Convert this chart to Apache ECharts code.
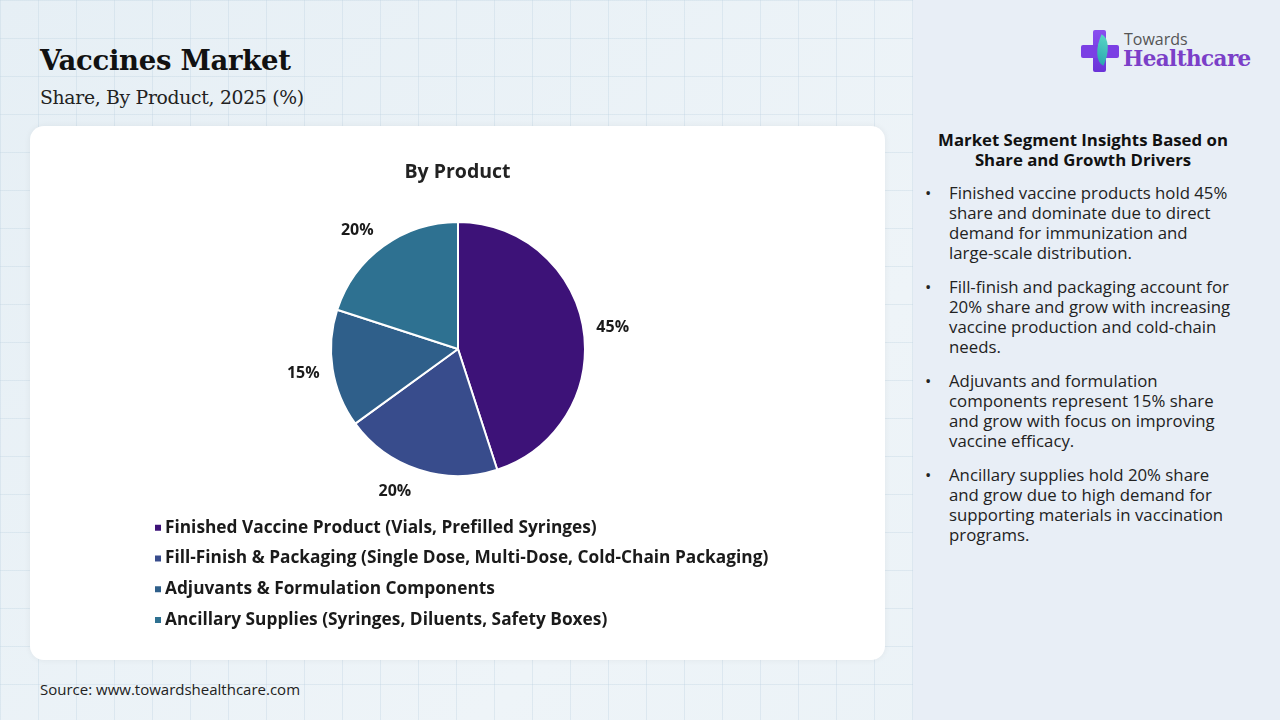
<!DOCTYPE html>
<html>
<head>
<meta charset="utf-8">
<script src="https://cdn.jsdelivr.net/npm/echarts@6/dist/echarts.min.js"></script>
<style>
  html,body{margin:0;padding:0;width:1280px;height:720px;overflow:hidden;font-family:"Open Sans",sans-serif;}
  #page{position:relative;width:1280px;height:720px;
    background:
      linear-gradient(rgba(190,210,225,0.35) 1px, transparent 1px) 0 0/38px 38px,
      linear-gradient(90deg, rgba(190,210,225,0.35) 1px, transparent 1px) 0 0/38px 38px,
      linear-gradient(135deg,#e6eff5 0%,#eef4f8 60%,#e9f1f6 100%);}
  #side{position:absolute;left:913px;top:0;width:367px;height:720px;background:#e8eef6;}
  #title{position:absolute;left:40px;top:44px;font-family:"DejaVu Serif",serif;font-weight:bold;font-size:27.5px;color:#111;letter-spacing:-0.3px;}
  #subtitle{position:absolute;left:40px;top:87px;font-family:"DejaVu Serif",serif;font-size:18.8px;color:#222;letter-spacing:-0.3px;}
  #card{position:absolute;left:30px;top:126px;width:855px;height:534px;background:#fff;border-radius:14px;box-shadow:0 0 6px rgba(0,0,0,0.06);}
  #chart{position:absolute;left:0;top:0;width:855px;height:534px;}
  #source{position:absolute;left:40px;top:679px;font-size:15px;color:#222;font-family:"Open Sans",sans-serif;}
  #insTitle{position:absolute;left:903px;top:130px;width:360px;text-align:center;font-weight:bold;font-size:16.8px;line-height:20px;color:#111;font-family:"Open Sans",sans-serif;white-space:nowrap;}
  #ins{position:absolute;left:924px;top:183px;width:350px;margin:0;padding:0;list-style:none;font-size:16.8px;line-height:20px;color:#222;font-family:"Open Sans",sans-serif;white-space:nowrap;}
  #ins li{position:relative;padding-left:25px;margin-bottom:14px;}
  #ins li::before{content:"•";position:absolute;left:1px;top:0;}
  #logo{position:absolute;left:1080px;top:28px;width:180px;height:50px;}
  .cv{position:absolute;left:13px;top:2px;width:13px;height:42px;background:linear-gradient(#8a4ef0,#6a32d8);border-radius:2px;}
  .ch{position:absolute;left:1px;top:17px;width:38px;height:13px;background:#7b3fe4;border-radius:2px;}
  .leaf{position:absolute;left:15px;top:8px;width:15px;height:28px;background:linear-gradient(#57d6c4,#2aa7b0);border-radius:0 100% 0 100%;transform:rotate(25deg);}
  .t1{position:absolute;left:44px;top:0px;font-family:"Open Sans",sans-serif;font-size:16px;color:#555;}
  .t2{position:absolute;left:43px;top:18px;font-family:"DejaVu Serif",serif;font-weight:bold;font-size:21.5px;color:#7b3fc8;letter-spacing:-0.6px;}
</style>
</head>
<body>
<div id="page">
  <div id="side"></div>
  <div id="title">Vaccines Market</div>
  <div id="subtitle">Share, By Product, 2025 (%)</div>
  <div id="logo"><div class="cv"></div><div class="ch"></div><div class="leaf"></div><div class="t1">Towards</div><div class="t2">Healthcare</div></div>
  <div id="card"><div id="chart"></div></div>
  <div id="source">Source: www.towardshealthcare.com</div>
  <div id="insTitle">Market Segment Insights Based on<br>Share and Growth Drivers</div>
  <ul id="ins">
    <li>Finished vaccine products hold 45%<br>share and dominate due to direct<br>demand for immunization and<br>large-scale distribution.</li>
    <li>Fill-finish and packaging account for<br>20% share and grow with increasing<br>vaccine production and cold-chain<br>needs.</li>
    <li>Adjuvants and formulation<br>components represent 15% share<br>and grow with focus on improving<br>vaccine efficacy.</li>
    <li>Ancillary supplies hold 20% share<br>and grow due to high demand for<br>supporting materials in vaccination<br>programs.</li>
  </ul>
</div>
<script>
const categories = [
  "Finished Vaccine Product (Vials, Prefilled Syringes)",
  "Fill-Finish & Packaging (Single Dose, Multi-Dose, Cold-Chain Packaging)",
  "Adjuvants & Formulation Components",
  "Ancillary Supplies (Syringes, Diluents, Safety Boxes)"
];
const shares = [45, 20, 15, 20];
const colors = ["#3d1278", "#384c8c", "#2f5f8a", "#2e7191"];

const pieCenter = [428, 223];
const chart = echarts.init(document.getElementById('chart'));
chart.setOption({
  animation: false,
  color: colors,
  title: {
    text: 'By Product', left: 'center', top: 31,
    textStyle: {fontFamily: 'Open Sans', fontWeight: 'bold', fontSize: 19.5, color: '#222'}
  },
  legend: {
    orient: 'vertical', left: 118, top: 388,
    icon: 'rect', itemWidth: 8, itemHeight: 8, itemGap: 13,
    data: categories,
    textStyle: {fontFamily: 'Open Sans', fontWeight: 'bold', fontSize: 17.3, color: '#1a1a1a', lineHeight: 17.7, padding: [0,0,0,-2]}
  },
  series: [{
    type: 'pie',
    center: pieCenter,
    radius: 127,
    startAngle: 90,
    clockwise: true,
    itemStyle: {borderColor: '#fff', borderWidth: 2},
    label: {
      show: true, position: 'outside', formatter: '{c}%',
      fontFamily: 'Open Sans', fontWeight: 'bold', fontSize: 16, color: '#1a1a1a'
    },
    labelLine: {show: false, length: 8, length2: 0},
    labelLayout: function (p) {
      const r = p.labelRect;
      const cx = r.x + r.width / 2, cy = r.y + r.height / 2;
      const dx = cx - pieCenter[0], dy = cy - pieCenter[1];
      const d = Math.sqrt(dx * dx + dy * dy) || 1;
      return {dy: 14 * dy / d + 1};
    },
    data: categories.map((c, i) => ({name: c, value: shares[i]}))
  }]
});
</script>
</body>
</html>
